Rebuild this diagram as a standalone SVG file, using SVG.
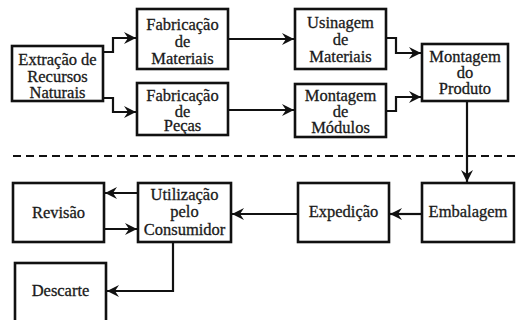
<svg xmlns="http://www.w3.org/2000/svg" width="517" height="320" viewBox="0 0 517 320">
<defs>
<style>
.box{fill:#fff;stroke:#111;stroke-width:2.6}
.t{font-size:16.5px;fill:#1a1a1a;stroke:#1a1a1a;stroke-width:0.3;text-anchor:middle}
.c{fill:none;stroke:#111;stroke-width:2.2}
.dash{fill:none;stroke:#111;stroke-width:2.2;stroke-dasharray:8 5}
</style>
<marker id="ah" markerUnits="userSpaceOnUse" markerWidth="13" markerHeight="12" refX="12" refY="6" orient="auto">
<path d="M0,0 L12,6 L0,12 L4,6 Z" fill="#111"/>
</marker>
</defs>
<rect width="517" height="320" fill="#fff"/>
<g id="connectors">
<path class="c" d="M103 52 H113 V38 H136" marker-end="url(#ah)"/>
<path class="c" d="M103 98 H113 V112 H136" marker-end="url(#ah)"/>
<path class="c" d="M228 39 H294" marker-end="url(#ah)"/>
<path class="c" d="M228 110 H294" marker-end="url(#ah)"/>
<path class="c" d="M386 38 H396 V53 H421" marker-end="url(#ah)"/>
<path class="c" d="M386 111 H396 V97 H421" marker-end="url(#ah)"/>
<path class="c" d="M467 101 V182" marker-end="url(#ah)"/>
<path class="c" d="M422 214 H390" marker-end="url(#ah)"/>
<path class="c" d="M298 214 H232" marker-end="url(#ah)" style="stroke-width:1.8"/>
<path class="c" d="M138 193 H105" marker-end="url(#ah)"/>
<path class="c" d="M104 229 H137" marker-end="url(#ah)"/>
<path class="c" d="M173 242 V291 H107" marker-end="url(#ah)"/>
</g>
<path class="dash" d="M13 156 H517"/>
<g font-family="'Liberation Serif', 'Times New Roman', 'DejaVu Serif', serif">
<g id="extracao"><rect class="box" x="12" y="46" width="91" height="55"/><text class="t" x="57.5" y="65">Extração de</text><text class="t" x="57.5" y="81.5">Recursos</text><text class="t" x="57.5" y="97.5">Naturais</text></g>
<g id="fabmat"><rect class="box" x="137" y="9" width="91" height="60"/><text class="t" x="182.5" y="30">Fabricação</text><text class="t" x="182.5" y="47">de</text><text class="t" x="182.5" y="64">Materiais</text></g>
<g id="fabpec"><rect class="box" x="137" y="83" width="91" height="52"/><text class="t" x="182.5" y="101">Fabricação</text><text class="t" x="182.5" y="117">de</text><text class="t" x="182.5" y="130.5">Peças</text></g>
<g id="usinagem"><rect class="box" x="295" y="9" width="91" height="60"/><text class="t" x="340.5" y="28">Usinagem</text><text class="t" x="340.5" y="45">de</text><text class="t" x="340.5" y="62">Materiais</text></g>
<g id="modulos"><rect class="box" x="295" y="84" width="91" height="53"/><text class="t" x="340.5" y="101">Montagem</text><text class="t" x="340.5" y="117">de</text><text class="t" x="340.5" y="133">Módulos</text></g>
<g id="produto"><rect class="box" x="422" y="44" width="86" height="57"/><text class="t" x="465" y="62">Montagem</text><text class="t" x="465" y="78">do</text><text class="t" x="465" y="94">Produto</text></g>
<g id="embalagem"><rect class="box" x="422" y="183" width="92" height="59"/><text class="t" x="468" y="217">Embalagem</text></g>
<g id="expedicao"><rect class="box" x="298" y="183" width="91" height="59"/><text class="t" x="343.5" y="217">Expedição</text></g>
<g id="utilizacao"><rect class="box" x="138" y="183" width="93" height="59"/><text class="t" x="184.5" y="200">Utilização</text><text class="t" x="184.5" y="217">pelo</text><text class="t" x="184.5" y="234.5">Consumidor</text></g>
<g id="revisao"><rect class="box" x="13" y="183" width="91" height="59"/><text class="t" x="58.5" y="218">Revisão</text></g>
<g id="descarte"><rect class="box" x="15" y="263" width="91" height="62"/><text class="t" x="60.5" y="296">Descarte</text></g>
</g>
</svg>
